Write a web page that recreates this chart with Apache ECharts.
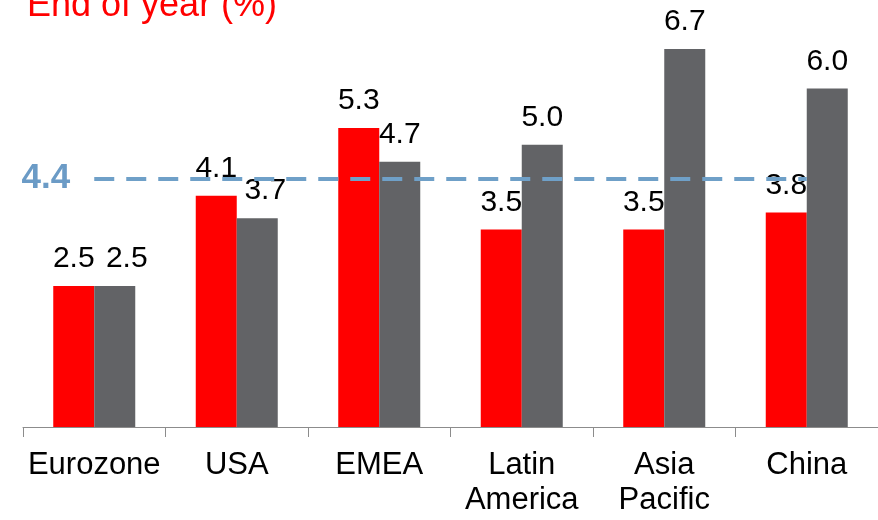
<!DOCTYPE html>
<html>
<head>
<meta charset="utf-8">
<script src="https://cdn.jsdelivr.net/npm/echarts@6/dist/echarts.min.js"></script>
<style>
  html, body { margin: 0; padding: 0; background: #fff; }
  #chart { width: 878px; height: 520px; }
</style>
</head>
<body>
<div id="chart"></div>
<script>
// regions on the x axis
const regions = ['Eurozone', 'USA', 'EMEA', 'Latin\nAmerica', 'Asia\nPacific', 'China']
// red bars and grey bars, end of year (%)
const redValues = [2.5, 4.1, 5.3, 3.5, 3.5, 3.8]
const greyValues = [2.5, 3.7, 4.7, 5.0, 6.7, 6.0]
// dashed reference level
const refLevel = 4.4

const FONT = 'Liberation Sans, Arial, sans-serif'

// a couple of grey labels sit a bit to the right so they don't collide
const greyLabelShift = [12, 8, 0, 0, 0, 0]

const valueLabel = {
  show: true,
  position: 'top',
  distance: 12,
  color: '#000',
  fontSize: 30,
  fontFamily: FONT,
  formatter: p => p.value.toFixed(1)
}

const chart = echarts.init(document.getElementById('chart'))
chart.setOption({
  animation: false,
  backgroundColor: '#fff',
  title: {
    text: 'End of year (%)',
    left: 22,
    top: -17,
    textStyle: { color: '#ff0000', fontSize: 36, fontWeight: 'normal', fontFamily: FONT }
  },
  grid: { left: 23, width: 862, top: 32, bottom: 93 },
  xAxis: {
    type: 'category',
    data: regions,
    axisLine: { lineStyle: { color: '#8c8c8c', width: 1 } },
    axisTick: { show: true, length: 10, lineStyle: { color: '#8c8c8c' } },
    axisLabel: {
      interval: 0,
      color: '#000',
      fontSize: 31,
      fontFamily: FONT,
      lineHeight: 35,
      margin: 21
    }
  },
  yAxis: {
    type: 'value',
    min: 0,
    max: 7,
    show: false,
    splitLine: { show: false }
  },
  series: [{
    name: 'Series 1',
    type: 'bar',
    barWidth: 41,
    barGap: '0%',
    itemStyle: { color: '#ff0000' },
    label: valueLabel,
    data: redValues
  }, {
    name: 'Series 2',
    type: 'bar',
    barWidth: 41,
    barGap: '0%',
    itemStyle: { color: '#626366' },
    label: valueLabel,
    data: greyValues.map((v, i) => ({
      value: v,
      label: { offset: [greyLabelShift[i], 0] }
    }))
  }, {
    name: 'Reference',
    type: 'line',
    data: [],
    markLine: {
      silent: true,
      symbol: 'none',
      lineStyle: { color: '#6fa0c8', width: 4, type: [20, 12] },
      label: {
        show: true,
        position: 'start',
        distance: 24,
        color: '#6b9bc6',
        fontSize: 35,
        fontWeight: 'bold',
        fontFamily: FONT,
        formatter: refLevel.toFixed(1)
      },
      data: [[
        { coord: [regions[0], refLevel] },
        { coord: [regions[regions.length - 1], refLevel] }
      ]]
    }
  }]
})
</script>
</body>
</html>
